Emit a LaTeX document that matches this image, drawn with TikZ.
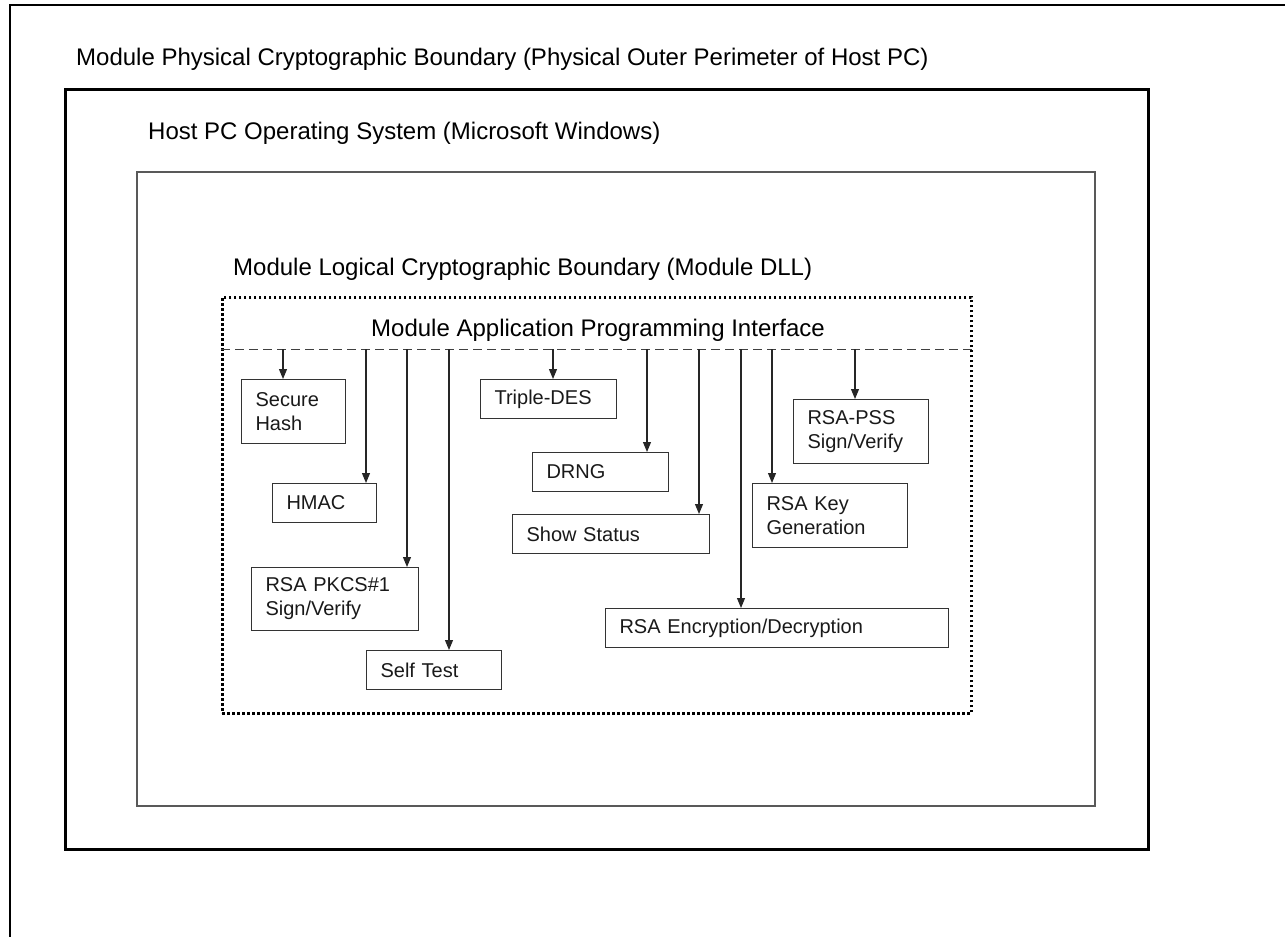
\documentclass[tikz,border=0pt]{standalone}
\usepackage{fontspec}
\setmainfont{Liberation Sans}
\usetikzlibrary{arrows.meta,calc}

\tikzset{
  x=1pt, y=-1pt,
  frameline/.style={line width=2.2pt, black},
  physbox/.style={draw=black, line width=2.6pt},
  physshade/.style={draw=black!45, line width=1.4pt},
  hostbox/.style={draw=black!65, line width=1.6pt},
  dllbox/.style={draw=black, line width=2.6pt, dash pattern=on 2.6pt off 2.4pt},
  apisep/.style={draw=black!75, line width=1.1pt, dash pattern=on 9pt off 5pt},
  header/.style={font=\fontsize{24}{28}\selectfont, anchor=base west, inner sep=0pt},
  fn/.style={draw=black!80, line width=1.1pt, anchor=north west, align=left,
    inner xsep=14pt, inner ysep=0pt, font=\fontsize{20}{24}\selectfont,
    text=black!90},
  arr/.style={draw=black!85, line width=1.1pt,
    -{Triangle[width=8pt,length=10pt]}},
}

\begin{document}
\begin{tikzpicture}
\useasboundingbox (0,0) rectangle (1285,937);

% page frame
\draw[frameline] (1285,5) -- (10,5) -- (10,937);

% boundaries
\draw[physshade] (66,90) rectangle (1149,850);
\node[physbox, minimum width=1083, minimum height=760, anchor=north west] (phys) at (64,88) {};
\node[header] (physlbl) at (76,65) {Module Physical Cryptographic Boundary (Physical Outer Perimeter of Host PC)};

\node[hostbox, minimum width=958, minimum height=634, anchor=north west] (host) at (136,171) {};
\node[header] (hostlbl) at (148,139) {Host PC Operating System (Microsoft Windows)};

\node[dllbox, minimum width=749, minimum height=416, anchor=north west] (dll) at (221,296) {};
\node[header] (dlllbl) at (233,275) {Module Logical Cryptographic Boundary (Module DLL)};

% API strip
\node[minimum width=749, minimum height=53, anchor=north west, inner sep=0pt] (api) at (221,296) {};
\node[header, anchor=base] (apilbl) at (598,336) {Module Application Programming Interface};
\draw[apisep] (dll.west |- api.south) -- (dll.east |- api.south);

% functions
\node[fn, text width=76, minimum height=64] (sh) at (241,379) {Secure\\Hash};
\node[fn, text width=108, minimum height=39] (tdes) at (480,379) {Triple-DES};
\node[fn, text width=108, minimum height=39] (drng) at (532,452) {DRNG};
\node[fn, text width=76, minimum height=39] (hmac) at (272,483) {HMAC};
\node[fn, text width=169, minimum height=39] (stat) at (512,514) {Show Status};
\node[fn, text width=139, minimum height=63] (pkcs) at (251,567) {RSA PKCS\#1\\Sign/Verify};
\node[fn, text width=107, minimum height=39] (self) at (366,650) {Self Test};
\node[fn, text width=315, minimum height=39] (enc) at (605,608) {RSA Encryption/Decryption};
\node[fn, text width=107, minimum height=64] (pss) at (793,399) {RSA-PSS\\Sign/Verify};
\node[fn, text width=127, minimum height=64] (kg) at (752,483) {RSA Key\\Generation};

% calls from the API into each function
\coordinate (cSH) at (283,349);
\coordinate (cHM) at (366,349);
\coordinate (cPK) at (407,349);
\coordinate (cST) at (449,349);
\coordinate (cTD) at (553,349);
\coordinate (cDR) at (647,349);
\coordinate (cSS) at (699,349);
\coordinate (cEN) at (741,349);
\coordinate (cKG) at (772,349);
\coordinate (cPS) at (855,349);

\draw[arr] (cSH) -- (cSH |- sh.north);
\draw[arr] (cHM) -- (cHM |- hmac.north);
\draw[arr] (cPK) -- (cPK |- pkcs.north);
\draw[arr] (cST) -- (cST |- self.north);
\draw[arr] (cTD) -- (cTD |- tdes.north);
\draw[arr] (cDR) -- (cDR |- drng.north);
\draw[arr] (cSS) -- (cSS |- stat.north);
\draw[arr] (cEN) -- (cEN |- enc.north);
\draw[arr] (cKG) -- (cKG |- kg.north);
\draw[arr] (cPS) -- (cPS |- pss.north);
\end{tikzpicture}
\end{document}
